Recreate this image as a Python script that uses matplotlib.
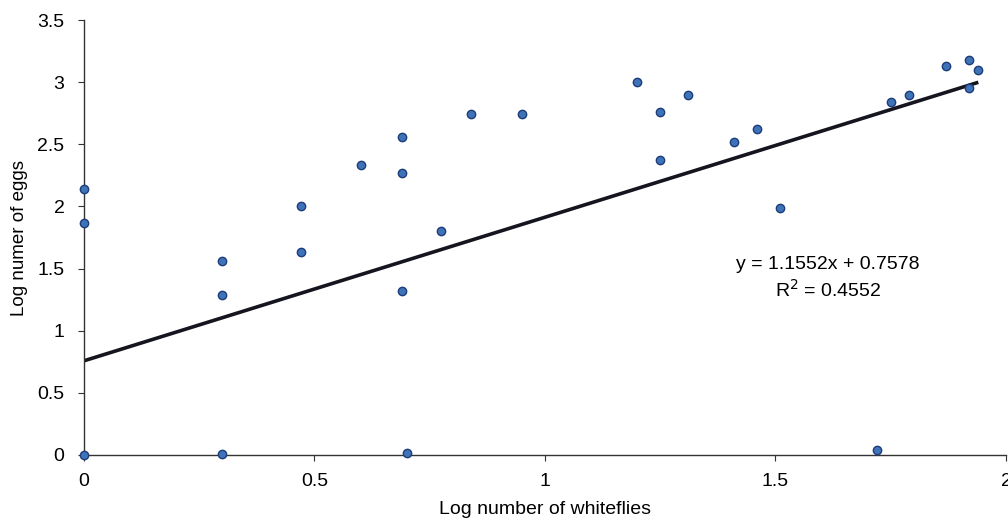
import matplotlib
matplotlib.use("Agg")
import matplotlib.pyplot as plt
import numpy as np

plt.rcParams['font.family'] = ['Liberation Sans', 'DejaVu Sans']

# log number of whiteflies / log number of eggs
log_whiteflies = [0.0, 0.0, 0.0, 0.30, 0.30, 0.30, 0.47, 0.47, 0.60, 0.69,
                  0.69, 0.69, 0.70, 0.775, 0.84, 0.95, 1.20, 1.25, 1.25, 1.31,
                  1.41, 1.46, 1.51, 1.72, 1.75, 1.79, 1.87, 1.92, 1.92, 1.94]
log_eggs = [2.14, 1.87, 0.0, 1.56, 1.29, 0.01, 2.00, 1.63, 2.33, 2.56,
            2.27, 1.32, 0.02, 1.80, 2.74, 2.74, 3.00, 2.76, 2.37, 2.90,
            2.52, 2.62, 1.99, 0.04, 2.84, 2.90, 3.13, 3.18, 2.95, 3.10]

slope = 1.1552
intercept = 0.7578
r_squared = 0.4552

xticks = [0, 0.5, 1, 1.5, 2]
xticklabels = ['0', '0.5', '1', '1.5', '2']
yticks = [0, 0.5, 1, 1.5, 2, 2.5, 3, 3.5]
yticklabels = ['0', '0.5', '1', '1.5', '2', '2.5', '3', '3.5']

fig = plt.figure(figsize=(10.08, 5.24), dpi=100)
ax = fig.add_axes([0.0833, 0.1317, 0.9147, 0.8301])

# trend line over the data range
fit_x = np.array([min(log_whiteflies), max(log_whiteflies)])
ax.plot(fit_x, slope * fit_x + intercept, color='#15151f', lw=2.6, zorder=2,
        solid_capstyle='butt')

ax.scatter(log_whiteflies, log_eggs, s=36, color='#3f73b8',
           edgecolors='#1c3c7a', linewidths=1.0, zorder=3, clip_on=False)

ax.text(1.614, 1.53, 'y = 1.1552x + 0.7578', ha='center', va='center', fontsize=14)
ax.text(1.614, 1.33, 'R$^{2}$ = %.4f' % r_squared, ha='center', va='center', fontsize=14)

ax.set_xlim(0, 2)
ax.set_ylim(0, 3.5)
ax.set_xticks(xticks)
ax.set_xticklabels(xticklabels, fontsize=14)
ax.set_yticks(yticks)
ax.set_yticklabels(yticklabels, fontsize=14)
ax.tick_params(axis='y', direction='out', length=4, width=0.8, color='#333333', pad=10)
ax.tick_params(axis='x', direction='out', length=4, width=0.8, color='#333333', pad=9)

for side in ['top', 'right']:
    ax.spines[side].set_visible(False)
for side in ['left', 'bottom']:
    ax.spines[side].set_linewidth(1.0)
    ax.spines[side].set_color('#333333')

ax.set_xlabel('Log number of whiteflies', fontsize=14, labelpad=8)
ax.set_ylabel('Log numer of eggs', fontsize=13.5, labelpad=7)

fig.savefig('out.png', dpi=100)
